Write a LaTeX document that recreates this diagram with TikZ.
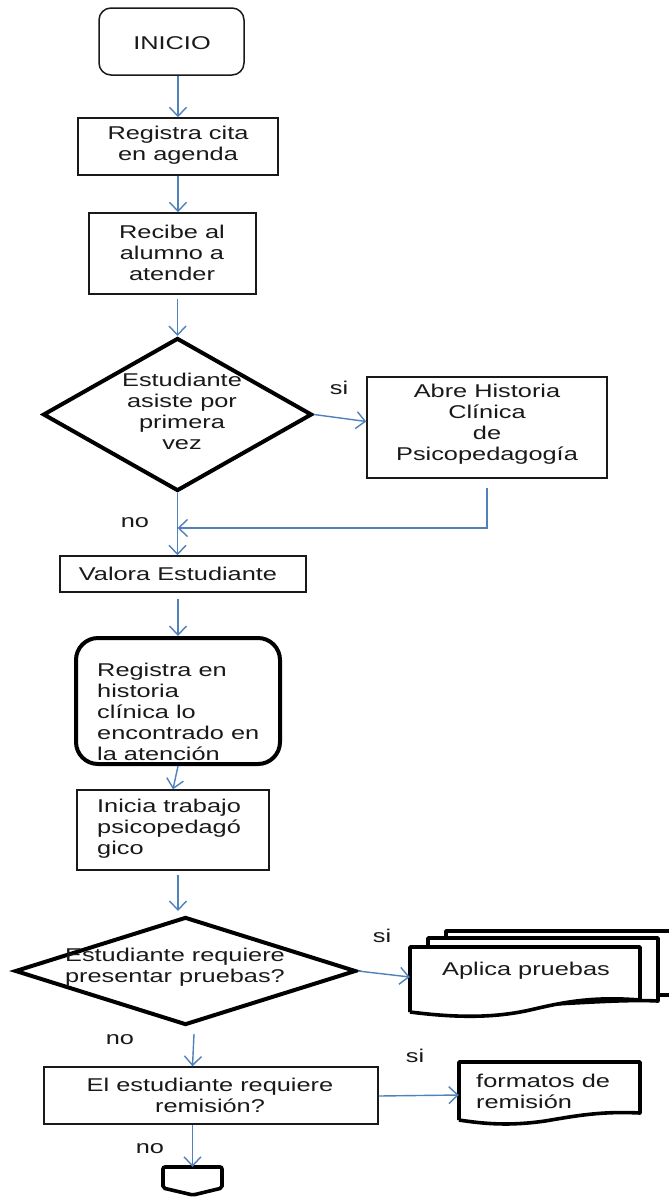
\documentclass[tikz,border=0pt]{standalone}
\usepackage{fontspec}
\setmainfont{Liberation Sans}[FakeStretch=1.37]
\usetikzlibrary{arrows.meta,shapes.geometric,calc}
\definecolor{arrblue}{RGB}{79,129,189}
\definecolor{inkc}{RGB}{25,25,25}
\begin{document}
\begin{tikzpicture}[x=1pt,y=-1pt,
  txt/.style={inner sep=0pt, text=inkc, font=\fontsize{18.5}{21}\selectfont, align=center},
  ltxt/.style={txt, align=left, anchor=west},
  plainbox/.style={draw=inkc, line width=1.5pt, rectangle, inner sep=0pt},
  startbox/.style={plainbox, rounded corners=12pt},
  thickbox/.style={draw=black, line width=4pt, rectangle, rounded corners=22pt, inner sep=0pt},
  decision/.style={draw=black, line width=4pt, diamond, inner sep=0pt},
  ghost/.style={rectangle, inner sep=0pt, draw=none},
  docline/.style={draw=black, line width=3.6pt, fill=white, line join=round},
  arr/.style={draw=arrblue, line width=1.4pt, -{Straight Barb[length=9pt,width=17pt]}}
]
\useasboundingbox (0,0) rectangle (669,1197);
\fill[white] (0,0) rectangle (669,1197);

% shapes
\node[startbox, minimum width=145pt, minimum height=67pt] (ini) at (171.5,41.5) {};
\node[plainbox, minimum width=200pt, minimum height=57pt] (reg) at (178,146.5) {};
\node[plainbox, minimum width=167pt, minimum height=81pt] (rec) at (172.5,253.5) {};
\node[decision, minimum width=269pt, minimum height=153pt] (d1) at (177.5,414.5) {};
\node[plainbox, minimum width=240pt, minimum height=101pt] (abre) at (487,427.5) {};
\node[plainbox, minimum width=246pt, minimum height=36pt] (val) at (183,574) {};
\node[thickbox, minimum width=204pt, minimum height=126pt] (regh) at (178,701) {};
\node[plainbox, minimum width=192pt, minimum height=80pt] (ins) at (173,830) {};
\node[decision, minimum width=341pt, minimum height=108pt] (d2) at (185.5,971) {};
\node[plainbox, minimum width=334pt, minimum height=57pt] (est) at (211,1095.5) {};

% multi-document (Aplica pruebas)
\draw[docline] (446,995) -- (446,931) -- (700,931) -- (700,995) -- cycle;
\draw[docline] (428,1004) -- (428,938) -- (658,938) -- (658,1001)
  .. controls (600,998) and (500,1012) .. (428,1004);
\draw[docline] (410,1012) -- (410,947) -- (640,947) -- (640,1000)
  .. controls (590,996) and (560,1003) .. (530,1010)
  .. controls (490,1019) and (450,1017) .. (410,1012);
\node[ghost, minimum width=230pt, minimum height=65pt] (apl) at (525,979.5) {};

% document (formatos de remision)
\draw[docline] (459,1120) -- (459,1062) -- (640,1062) -- (640,1113)
  .. controls (600,1111) and (575,1116) .. (545,1121)
  .. controls (510,1126) and (485,1124) .. (459,1120);
\node[ghost, minimum width=181pt, minimum height=60pt] (fmt) at (549.5,1092) {};

% off-page connector
\draw[black, line width=3.6pt, rounded corners=2pt, fill=white]
  (163,1167) -- (222,1167) -- (222,1188) -- (193,1195) -- (163,1188) -- cycle;
\node[ghost, minimum width=59pt, minimum height=28pt] (off) at (192.5,1181) {};

% texts
\node[txt] (tini) at (172,43) {INICIO};
\node[txt] (treg) at (178,145) {Registra cita\\en agenda};
\node[txt] (trec) at (172,253) {Recibe al\\alumno a\\atender};
\node[txt] (td1) at (182,411) {Estudiante\\asiste por\\primera\\vez};
\node[txt] (tabre) at (487,424.5) {Abre Historia\\Clínica\\de\\Psicopedagogía};
\node[txt] (tval) at (178,574) {Valora Estudiante};
\node[ltxt] (tregh) at (97,712) {Registra en\\historia\\clínica lo\\encontrado en\\la atención};
\node[ltxt] (tins) at (97,829) {Inicia trabajo\\psicopedagó\\gico};
\node[txt] (td2) at (175,967) {Estudiante requiere\\presentar pruebas?};
\node[txt] (tapl) at (526,971) {Aplica pruebas};
\node[txt] (test) at (210,1095.5) {El estudiante requiere\\remisión?};
\node[ltxt] (tfmt) at (476,1091) {formatos de\\remisión};

% branch labels
\node[txt] (si1) at (339,388) {si};
\node[txt] (no1) at (135,523) {no};
\node[txt] (si2) at (382,936) {si};
\node[txt] (no2) at (120,1040) {no};
\node[txt] (si3) at (415,1056) {si};
\node[txt] (no3) at (150,1149) {no};

% connectors
\coordinate (m1) at (177.5,528);
\draw[arr] (ini.south -| reg.north) -- (reg.north);
\draw[arr] (reg.south) -- (reg.south |- rec.north);
\draw[arr] ([yshift=-4pt]rec.south -| d1.north) -- (d1.north);
\draw[arr] (d1.east) -- ([yshift=6pt]abre.west);
\draw[arr] ([yshift=-9pt]abre.south) |- (m1);
\draw[arr] (d1.south) -- (d1.south |- val.north);
\draw[arr] ([yshift=-6pt]val.south -| regh.north) -- (regh.north);
\draw[arr] (regh.south) -- (ins.north);
\draw[arr] ([yshift=-4pt]ins.south -| regh.north) -- ([yshift=4pt]d2.north -| regh.north);
\draw[arr] (d2.east) -- ([yshift=2.5pt]apl.west);
\draw[arr] ($(d2.south)+(8.5,7)$) -- (est.north -| off.north);
\draw[arr] ([yshift=-0.5pt]est.east) -- ([yshift=-3pt]fmt.west);
\draw[arr] (est.south -| off.north) -- (off.north);
\end{tikzpicture}
\end{document}
